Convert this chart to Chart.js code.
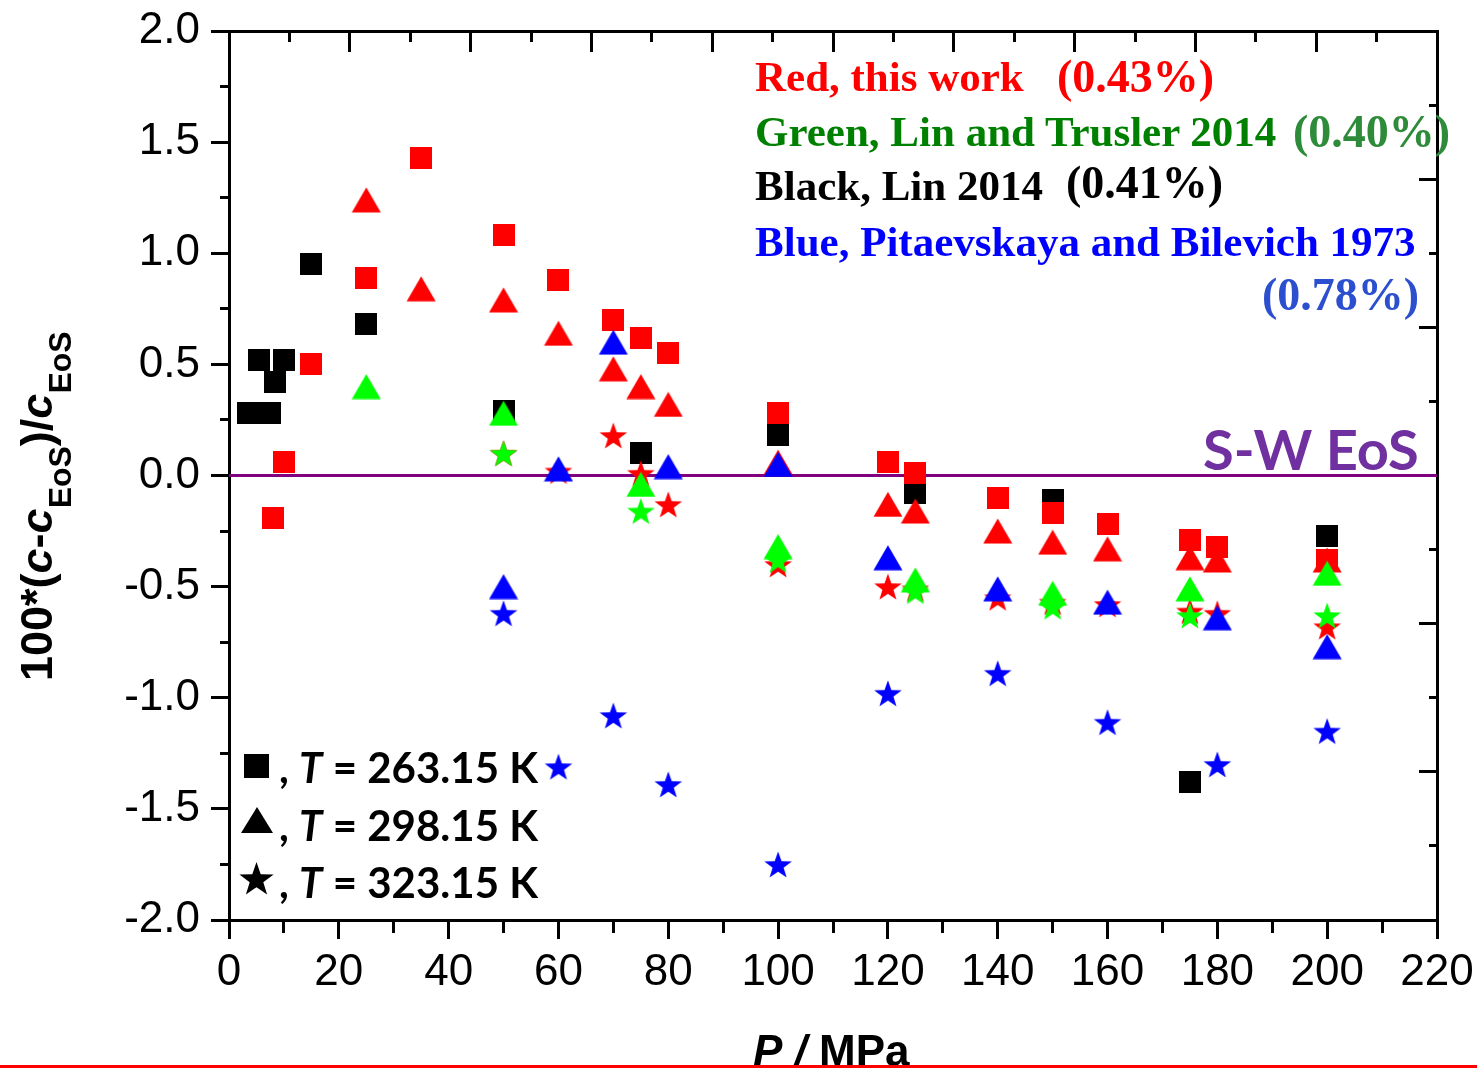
<!DOCTYPE html>
<html>
<head>
<meta charset="utf-8">
<title>Speed of sound deviations from the S-W EoS</title>
<script src="https://cdn.jsdelivr.net/npm/chart.js@4.4.1/dist/chart.umd.min.js"></script>
<style>
  html, body { margin: 0; padding: 0; background: #fff; overflow: hidden; }
  #wrap { position: relative; width: 1477px; height: 1068px; }
  #plot { position: absolute; left: 0; top: 0; }
  #notes { position: absolute; left: 0; top: 0; pointer-events: none; }
</style>
</head>
<body>
<div id="wrap">
  <canvas id="plot" width="1477" height="1068"></canvas>
  <svg id="notes" width="1477" height="1068" xmlns="http://www.w3.org/2000/svg">
    <!-- source key, upper right -->
    <g font-family="'Liberation Serif', 'Times New Roman', serif" font-weight="bold">
      <text x="755" y="91" font-size="43" fill="#ff0000">Red, this work</text>
      <text x="1057" y="92" font-size="46" fill="#ff0000">(0.43%)</text>
      <text x="755" y="146" font-size="43" fill="#008000">Green, Lin and Trusler 2014</text>
      <text x="1293" y="147" font-size="46" fill="#2e8b3a">(0.40%)</text>
      <text x="755" y="200" font-size="43" fill="#000000">Black, Lin 2014</text>
      <text x="1066" y="198" font-size="46" fill="#000000">(0.41%)</text>
      <text x="755" y="256" font-size="43" fill="#0000ff">Blue, Pitaevskaya and Bilevich 1973</text>
      <text x="1262" y="310" font-size="46" fill="#2b4fcf">(0.78%)</text>
    </g>
    <!-- reference line label -->
    <text x="1203" y="470" font-family="Lato, 'Open Sans', sans-serif" font-weight="bold" font-size="56" fill="#7030a0">S-W EoS</text>
    <!-- symbol key, lower left -->
    <g fill="#000000">
      <rect x="244" y="754" width="25" height="24"/>
      <polygon points="257,807 273,833 241,833"/>
      <polygon points="256.5,862 260.7,874.2 273.6,874.4 263.3,882.2 267.1,894.6 256.5,887.2 245.9,894.6 249.7,882.2 239.4,874.4 252.3,874.2"/>
    </g>
    <g font-family="Lato, 'Open Sans', sans-serif" font-weight="bold" font-size="42" fill="#000000">
      <text x="279" y="783">, <tspan font-style="italic">T</tspan> = 263.15 K</text>
      <text x="279" y="841">, <tspan font-style="italic">T</tspan> = 298.15 K</text>
      <text x="279" y="898">, <tspan font-style="italic">T</tspan> = 323.15 K</text>
    </g>
    <!-- axis titles -->
    <text transform="translate(52,681) rotate(-90)" font-family="'Liberation Sans', Arial, sans-serif" font-weight="bold" font-size="45" fill="#000">100*(<tspan font-style="italic">c</tspan>-<tspan font-style="italic">c</tspan><tspan font-size="32" dy="19">EoS</tspan><tspan dy="-19">)/</tspan><tspan font-style="italic">c</tspan><tspan font-size="32" dy="19">EoS</tspan></text>
    <text x="753" y="1066" font-family="'Liberation Sans', Arial, sans-serif" font-weight="bold" font-size="44" fill="#000"><tspan font-style="italic">P</tspan> <tspan font-style="italic">/</tspan> MPa</text>
    <rect x="0" y="1065" width="1477" height="3" fill="#ff0000"/>
  </svg>
</div>
<script>
// Pressure P / MPa and deviation 100*(c - c_EoS)/c_EoS for each data source and temperature.

// Black: Lin 2014, T = 263.15 K
const linSquareP   = [3.4, 5.4, 7.4, 8.4, 10, 15, 25, 50, 75, 100, 125, 150, 175, 200];
const linSquareDev = [0.28, 0.52, 0.28, 0.42, 0.52, 0.95, 0.68, 0.29, 0.10, 0.18, -0.08, -0.11, -1.38, -0.27];

// Red: this work
const workSquareP   = [8, 10, 15, 25, 35, 50, 60, 70, 75, 80, 100, 120, 125, 140, 150, 160, 175, 180, 200];
const workSquareDev = [-0.19, 0.06, 0.50, 0.89, 1.43, 1.08, 0.88, 0.70, 0.62, 0.55, 0.28, 0.06, 0.01, -0.10, -0.17, -0.22, -0.29, -0.32, -0.38];
const workTriP   = [25, 35, 50, 60, 70, 75, 80, 100, 120, 125, 140, 150, 160, 175, 180, 200];
const workTriDev = [1.24, 0.84, 0.79, 0.64, 0.48, 0.40, 0.32, 0.06, -0.13, -0.16, -0.25, -0.30, -0.33, -0.37, -0.38, -0.38];
const workStarP   = [50, 60, 70, 75, 80, 100, 120, 125, 140, 150, 160, 175, 180, 200];
const workStarDev = [0.10, 0.02, 0.18, 0.01, -0.13, -0.40, -0.50, -0.51, -0.55, -0.57, -0.58, -0.61, -0.62, -0.68];

// Green: Lin and Trusler 2014
const ltTriP   = [25, 50, 75, 100, 125, 150, 175, 200];
const ltTriDev = [0.40, 0.28, -0.04, -0.32, -0.47, -0.53, -0.51, -0.44];
const ltStarP   = [50, 75, 100, 125, 150, 175, 200];
const ltStarDev = [0.10, -0.16, -0.38, -0.52, -0.59, -0.63, -0.63];

// Blue: Pitaevskaya and Bilevich 1973
const pbTriP   = [50, 60, 70, 80, 100, 120, 140, 160, 180, 200];
const pbTriDev = [-0.50, 0.03, 0.60, 0.04, 0.05, -0.37, -0.51, -0.57, -0.64, -0.77];
const pbStarP   = [50, 60, 70, 80, 100, 120, 140, 160, 180, 200];
const pbStarDev = [-0.62, -1.31, -1.08, -1.39, -1.75, -0.98, -0.89, -1.11, -1.30, -1.15];

// Reference equation of state (zero deviation)
const eosP   = [0, 220];
const eosDev = [0, 0];

const pair = (P, D) => P.map((p, i) => ({ x: p, y: D[i] }));

// Filled marker images used as point styles
function squareMark(color) {
  const c = document.createElement('canvas');
  c.width = 22; c.height = 22;
  const g = c.getContext('2d');
  g.fillStyle = color;
  g.fillRect(0, 0, 22, 22);
  return c;
}
function triangleMark(color) {
  const w = 30, h = 26;
  const c = document.createElement('canvas');
  c.width = w; c.height = h;
  const g = c.getContext('2d');
  g.fillStyle = color;
  g.beginPath();
  g.moveTo(w / 2, 0.5);
  g.lineTo(w - 0.5, h - 0.5);
  g.lineTo(0.5, h - 0.5);
  g.closePath();
  g.fill();
  return c;
}
function starMark(color) {
  const R = 14.5, r = R * 0.4;
  const w = Math.ceil(2 * R * Math.sin(2 * Math.PI / 5)) + 2;
  const h = Math.ceil(R * (1 + Math.cos(Math.PI / 5))) + 2;
  const c = document.createElement('canvas');
  c.width = w; c.height = h;
  const g = c.getContext('2d');
  const cx = w / 2, cy = h / 2 + R * (1 - Math.cos(Math.PI / 5)) / 2;
  g.fillStyle = color;
  g.beginPath();
  for (let k = 0; k < 10; k++) {
    const a = -Math.PI / 2 + k * Math.PI / 5;
    const rr = k % 2 === 0 ? R : r;
    const px = cx + rr * Math.cos(a), py = cy + rr * Math.sin(a);
    if (k === 0) g.moveTo(px, py); else g.lineTo(px, py);
  }
  g.closePath();
  g.fill();
  return c;
}

const RED = '#ff0000', GREEN = '#00ff00', BLACK = '#000000', BLUE = '#0000ff', PURPLE = '#800080';

function markers(label, P, D, style, order) {
  return {
    type: 'scatter',
    label: label,
    data: pair(P, D),
    pointStyle: style,
    pointRadius: 12,
    pointHoverRadius: 12,
    showLine: false,
    order: order
  };
}

const tickFont = { family: "'Liberation Sans', Arial, sans-serif", size: 44 };
const minorX = v => Math.round(v) % 20 !== 0;
const minorY = v => Math.round(v * 4) % 2 !== 0;
const minorHalf = v => Math.round(v * 2) % 2 !== 0;
const tickVal = ctx => (ctx && ctx.tick ? ctx.tick.value : 0);

// Keep tick-label overhang from shrinking the plotting area
function noOverhang(s) {
  s.paddingLeft = 0; s.paddingRight = 0; s.paddingTop = 0; s.paddingBottom = 0;
}

new Chart(document.getElementById('plot'), {
  type: 'scatter',
  data: {
    datasets: [
      markers('Pitaevskaya and Bilevich 1973, 298.15 K', pbTriP, pbTriDev, triangleMark(BLUE), 1),
      markers('Pitaevskaya and Bilevich 1973, 323.15 K', pbStarP, pbStarDev, starMark(BLUE), 1),
      markers('Lin and Trusler 2014, 298.15 K', ltTriP, ltTriDev, triangleMark(GREEN), 2),
      markers('Lin and Trusler 2014, 323.15 K', ltStarP, ltStarDev, starMark(GREEN), 2),
      markers('This work, 263.15 K', workSquareP, workSquareDev, squareMark(RED), 3),
      markers('This work, 298.15 K', workTriP, workTriDev, triangleMark(RED), 3),
      markers('This work, 323.15 K', workStarP, workStarDev, starMark(RED), 3),
      markers('Lin 2014, 263.15 K', linSquareP, linSquareDev, squareMark(BLACK), 4),
      {
        type: 'line',
        label: 'S-W EoS',
        data: pair(eosP, eosDev),
        borderColor: PURPLE,
        borderWidth: 3,
        pointRadius: 0,
        fill: false,
        order: 5
      }
    ]
  },
  options: {
    responsive: false,
    animation: false,
    layout: { padding: { top: 31, right: 40, left: 0, bottom: 0 } },
    plugins: { legend: { display: false }, tooltip: { enabled: false } },
    scales: {
      x: {
        type: 'linear', position: 'bottom', min: 0, max: 220,
        border: { display: true, color: '#000', width: 3 },
        grid: {
          drawOnChartArea: false, drawTicks: true, tickLength: 19, tickWidth: 3, tickColor: '#000',
          tickBorderDash: ctx => (minorX(tickVal(ctx)) ? [11, 1000] : [])
        },
        ticks: {
          stepSize: 10, autoSkip: false, maxRotation: 0, minRotation: 0, padding: 7,
          color: '#000', font: tickFont,
          callback: v => (minorX(v) ? '' : String(v))
        },
        afterFit: s => { s.height = 148; noOverhang(s); }
      },
      y: {
        type: 'linear', position: 'left', min: -2, max: 2,
        border: { display: true, color: '#000', width: 3 },
        grid: {
          drawOnChartArea: false, drawTicks: true, tickLength: 18, tickWidth: 3, tickColor: '#000',
          tickBorderDash: ctx => (minorY(tickVal(ctx)) ? [0, 9, 20, 1000] : [])
        },
        ticks: {
          stepSize: 0.25, autoSkip: false, padding: 11,
          color: '#000', font: tickFont,
          callback: v => (minorY(v) ? '' : v.toFixed(1))
        },
        afterFit: s => { s.width = 229; noOverhang(s); }
      },
      x2: {
        type: 'linear', position: 'top', axis: 'x', min: 0, max: 10,
        border: { display: true, color: '#000', width: 3 },
        grid: {
          drawOnChartArea: false, drawTicks: true, tickLength: -21, tickWidth: 3, tickColor: '#000',
          tickBorderDash: ctx => (minorHalf(tickVal(ctx)) ? [0, 10, 20, 1000] : [])
        },
        ticks: { stepSize: 0.5, display: false, autoSkip: false },
        afterFit: s => { s.height = 0; noOverhang(s); }
      },
      y2: {
        type: 'linear', position: 'right', axis: 'y', min: 0, max: 6,
        border: { display: true, color: '#000', width: 3 },
        grid: {
          drawOnChartArea: false, drawTicks: true, tickLength: -18, tickWidth: 3, tickColor: '#000',
          tickBorderDash: ctx => (minorHalf(tickVal(ctx)) ? [10, 1000] : [])
        },
        ticks: { stepSize: 0.5, display: false, autoSkip: false },
        afterFit: s => { s.width = 0; noOverhang(s); }
      }
    }
  }
});
</script>
</body>
</html>
